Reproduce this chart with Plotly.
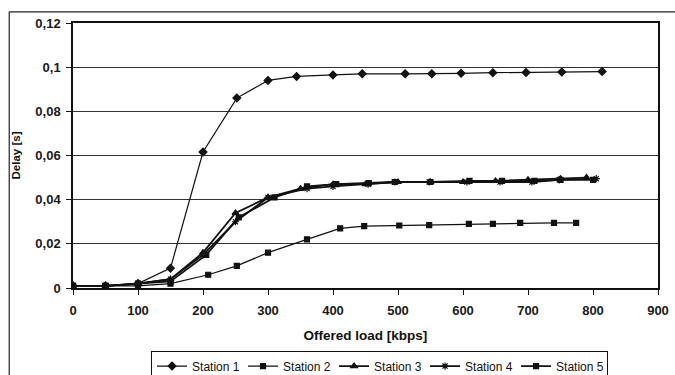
import plotly.graph_objects as go

s1_x = [0, 50, 100, 150, 200, 252, 300, 344, 400, 445, 511, 552, 597, 646, 697, 752, 814]
s1_y = [0.001, 0.001, 0.002, 0.009, 0.0616, 0.086, 0.094, 0.0958, 0.0965, 0.097, 0.097, 0.097, 0.0972, 0.0975, 0.0976, 0.0978, 0.098]

s2_x = [0, 50, 100, 150, 208, 252, 300, 360, 411, 448, 502, 548, 609, 646, 688, 740, 774]
s2_y = [0.001, 0.001, 0.001, 0.002, 0.006, 0.010, 0.016, 0.022, 0.027, 0.028, 0.0283, 0.0285, 0.029, 0.029, 0.0295, 0.0295, 0.0295]

s3_x = [0, 50, 100, 150, 200, 250, 300, 350, 400, 450, 500, 550, 600, 650, 700, 750, 790]
s3_y = [0.001, 0.001, 0.002, 0.004, 0.016, 0.034, 0.041, 0.045, 0.047, 0.047, 0.048, 0.048, 0.048, 0.0485, 0.049, 0.0495, 0.050]

s4_x = [0, 50, 100, 150, 200, 250, 300, 360, 400, 454, 495, 548, 606, 657, 706, 748, 805]
s4_y = [0.001, 0.001, 0.002, 0.004, 0.015, 0.030, 0.041, 0.045, 0.046, 0.047, 0.048, 0.048, 0.048, 0.048, 0.048, 0.049, 0.0495]

s5_x = [0, 50, 100, 150, 205, 255, 310, 360, 405, 455, 495, 550, 610, 660, 710, 750, 800]
s5_y = [0.001, 0.001, 0.002, 0.003, 0.015, 0.032, 0.041, 0.046, 0.047, 0.0475, 0.048, 0.048, 0.0485, 0.0485, 0.0485, 0.049, 0.049]

names = ["Station 1", "Station 2", "Station 3", "Station 4", "Station 5"]
y_ticks = [0, 0.02, 0.04, 0.06, 0.08, 0.1, 0.12]
y_labels = ["0", "0,02", "0,04", "0,06", "0,08", "0,1", "0,12"]
x_ticks = [0, 100, 200, 300, 400, 500, 600, 700, 800, 900]

series = [(s1_x, s1_y), (s2_x, s2_y), (s3_x, s3_y), (s4_x, s4_y), (s5_x, s5_y)]
symbols = ["diamond", "square", "triangle-up", "asterisk-open", "square"]
msizes = [6, 5, 6, 6, 5]
lwidths = [1.2, 1.2, 1.8, 1.8, 1.8]

fig = go.Figure()
for (x, y), n, sym, ms, lw in zip(series, names, symbols, msizes, lwidths):
    fig.add_trace(go.Scatter(
        x=x, y=y, name=n, mode="lines+markers",
        line=dict(color="#111111", width=lw),
        marker=dict(symbol=sym, size=ms, color="#111111",
                    line=dict(color="#111111", width=1.2)),
    ))

fam = "Liberation Sans, Arial, sans-serif"
tickfont = dict(size=13, family=fam, color="#1a1a1a", weight="bold")

fig.update_layout(
    width=675, height=375,
    margin=dict(l=73, r=17, t=23, b=87, autoexpand=False),
    paper_bgcolor="white", plot_bgcolor="white",
    font=dict(size=12, family=fam, color="#111111"),
    showlegend=True,
    legend=dict(orientation="h", x=0.524, xanchor="center", y=-0.236, yanchor="top",
                bordercolor="#111111", borderwidth=1, bgcolor="white",
                font=dict(size=12, family=fam, color="#111111"), itemwidth=30,
                entrywidth=46, entrywidthmode="pixels", tracegroupgap=0),
    xaxis=dict(range=[0, 900], tickvals=x_ticks, showgrid=False, zeroline=False,
               showline=True, linecolor="#111111", linewidth=1.5, mirror=True,
               ticks="outside", ticklen=5, tickcolor="#111111", automargin=False,
               tickfont=tickfont, ticklabelstandoff=5,
               title=dict(text="<b>Offered load [kbps]</b>",
                          font=dict(size=13.5, family=fam, color="#111111"), standoff=13)),
    yaxis=dict(range=[0, 0.12], tickvals=y_ticks, ticktext=y_labels,
               showgrid=True, gridcolor="#333333", gridwidth=1, zeroline=False,
               showline=True, linecolor="#111111", linewidth=1.5, mirror=True,
               ticks="outside", ticklen=5, tickcolor="#111111", automargin=False,
               tickfont=tickfont, ticklabelstandoff=3,
               title=dict(text="<b>Delay [s]</b>",
                          font=dict(size=11.5, family=fam, color="#111111"), standoff=12)),
    shapes=[
        dict(type="line", xref="paper", yref="paper", x0=-0.109, x1=1.1, y0=1.042, y1=1.042,
             line=dict(color="#222222", width=1.2)),
        dict(type="line", xref="paper", yref="paper", x0=-0.109, x1=-0.109, y0=1.042, y1=-0.4,
             line=dict(color="#222222", width=1.2)),
    ],
)

fig.write_html("out.html", config={"displayModeBar": False},
               post_script="document.body.style.margin='0px';document.body.style.overflow='hidden';")
